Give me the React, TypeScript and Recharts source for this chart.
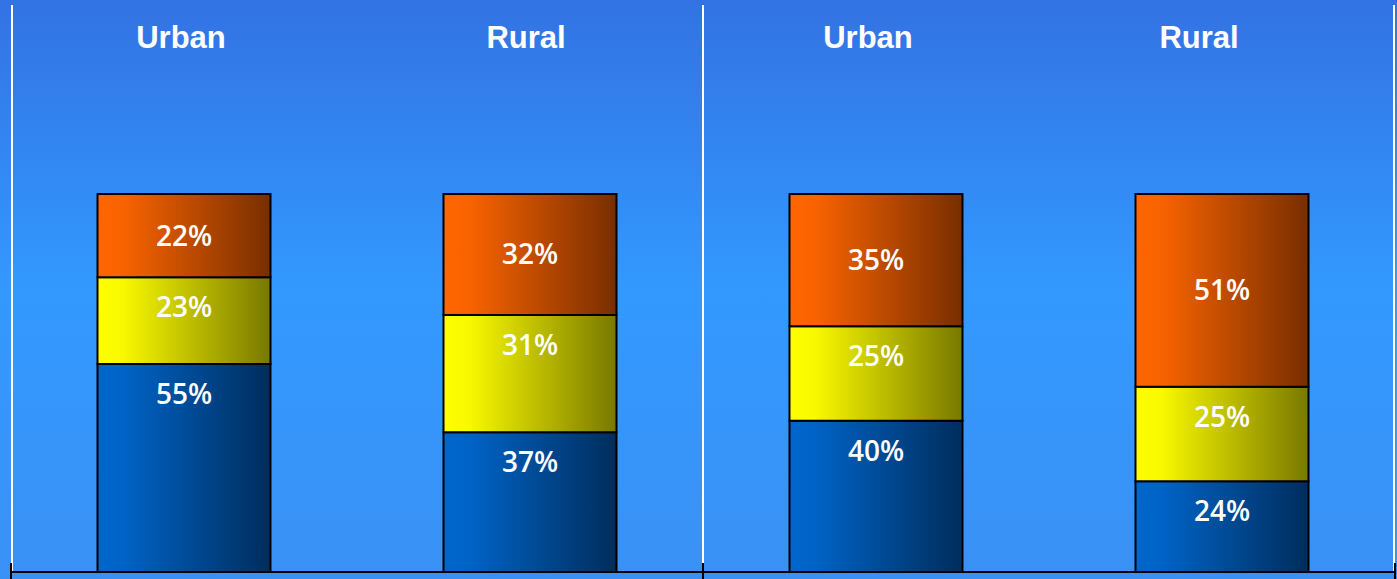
import React from 'react';
import { BarChart, Bar, XAxis, YAxis, CartesianGrid, LabelList } from 'recharts';

const groups = ['u1', 'r1', 'u2', 'r2'];
const groupLabels = ['Urban', 'Rural', 'Urban', 'Rural'];
const lowShare = [55, 37, 40, 24];
const midShare = [23, 31, 25, 25];
const highShare = [22, 32, 35, 51];

// the headings sit a little left of their bars in the original
const titleNudge = [-3, -4, -8, -23];

const data = groups.map((g, i) => ({
    id: g,
    label: groupLabels[i],
    low: lowShare[i],
    mid: midShare[i],
    high: highShare[i],
}));

const TITLE_FONT = '"Liberation Sans", Arial, sans-serif';
const VALUE_FONT = '"Open Sans", "Noto Sans", sans-serif';

const pct = (v: any) => `${v}%`;

// black ticks on the band edges that split the two pairs
const EdgeTick = (props: any) => {
    const { x, y, payload, index } = props;
    const half = payload && payload.offset ? payload.offset : 0;
    const lines: number[] = [];
    if (index % 2 === 0) lines.push(x - half);
    if (index === groups.length - 1) lines.push(x + half);
    return (
        <g>
            {lines.map((lx, i) => (
                <line key={i} x1={lx} x2={lx} y1={y - 9} y2={y + 7} stroke="#000" strokeWidth={2} />
            ))}
        </g>
    );
};

const TopTick = (props: any) => {
    const { x, y, index } = props;
    return (
        <text
            x={x + titleNudge[index]}
            y={y + 32}
            dy="0.35em"
            textAnchor="middle"
            fill="#fff"
            fontFamily={TITLE_FONT}
            fontWeight="bold"
            fontSize={31}
        >
            {groupLabels[index]}
        </text>
    );
};

const labelStyle = { fill: '#fff', fontFamily: VALUE_FONT, fontWeight: 600, fontSize: 28 };

const App: React.FC = () => {
    return (
        <div
            style={{
                position: 'absolute',
                left: 0,
                top: 0,
                width: 1397,
                height: 579,
                background: 'linear-gradient(to bottom, #3372e3 0%, #3399ff 50%, #3a91f5 100%)',
            }}
        >
            <BarChart width={1397} height={579} data={data} margin={{ top: 4, right: 2, bottom: 0, left: 11 }} barCategoryGap="25%">
                <defs>
                    <linearGradient id="gLow" x1="0" y1="0" x2="1" y2="0">
                        <stop offset="0%" stopColor="#0066cc" />
                        <stop offset="15%" stopColor="#0063c6" />
                        <stop offset="100%" stopColor="#002d5c" />
                    </linearGradient>
                    <linearGradient id="gMid" x1="0" y1="0" x2="1" y2="0">
                        <stop offset="0%" stopColor="#ffff00" />
                        <stop offset="15%" stopColor="#f8f800" />
                        <stop offset="100%" stopColor="#787800" />
                    </linearGradient>
                    <linearGradient id="gHigh" x1="0" y1="0" x2="1" y2="0">
                        <stop offset="0%" stopColor="#ff6600" />
                        <stop offset="15%" stopColor="#f86300" />
                        <stop offset="100%" stopColor="#782e00" />
                    </linearGradient>
                </defs>
                <CartesianGrid
                    horizontal={false}
                    stroke="#fff"
                    strokeWidth={2}
                    verticalCoordinatesGenerator={({ offset }: any) => [
                        offset.left + 1,
                        offset.left + offset.width / 2,
                        offset.left + offset.width - 1,
                    ]}
                />
                <XAxis
                    dataKey="id"
                    height={7}
                    axisLine={{ stroke: '#000', strokeWidth: 2 }}
                    tickLine={false}
                    tickSize={0}
                    tickMargin={0}
                    tick={<EdgeTick />}
                    interval={0}
                />
                <XAxis
                    xAxisId="top"
                    dataKey="id"
                    orientation="top"
                    height={1}
                    axisLine={false}
                    tickLine={false}
                    tickSize={0}
                    tickMargin={0}
                    tick={<TopTick />}
                    interval={0}
                />
                <YAxis hide domain={[0, 150]} />
                <Bar dataKey="low" stackId="s" fill="url(#gLow)" stroke="#000" strokeWidth={2} isAnimationActive={false}>
                    <LabelList dataKey="low" position="insideTop" offset={20} formatter={pct} style={labelStyle} />
                </Bar>
                <Bar dataKey="mid" stackId="s" fill="url(#gMid)" stroke="#000" strokeWidth={2} isAnimationActive={false}>
                    <LabelList dataKey="mid" position="insideTop" offset={20} formatter={pct} style={labelStyle} />
                </Bar>
                <Bar dataKey="high" stackId="s" fill="url(#gHigh)" stroke="#000" strokeWidth={2} isAnimationActive={false}>
                    <LabelList dataKey="high" position="center" offset={0} formatter={pct} style={labelStyle} />
                </Bar>
            </BarChart>
        </div>
    );
};

export default App;
